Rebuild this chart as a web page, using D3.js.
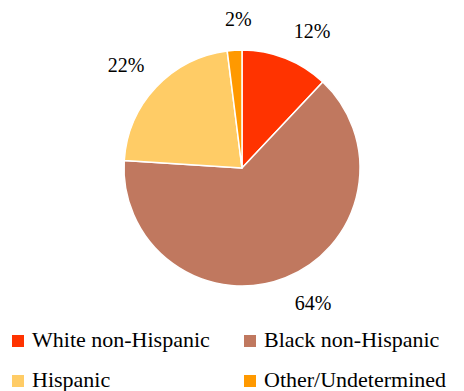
<!DOCTYPE html>
<html>
<head>
<meta charset="utf-8">
<script src="https://cdn.jsdelivr.net/npm/d3@7"></script>
<style>
  html, body { margin: 0; padding: 0; background: #fff; }
  svg { display: block; }
</style>
</head>
<body>
<svg id="chart" width="464" height="391"></svg>
<script>
// Share of cases by race / ethnicity
const categories = ["White non-Hispanic", "Black non-Hispanic", "Hispanic", "Other/Undetermined"];
const shares = [12, 64, 22, 2];
const colors = ["#FF3300", "#C0785F", "#FFCC66", "#FF9900"];

// Label nudges (px) from the outer mid-angle anchor, per slice
const labelNudge = [[13, 7], [14, -9], [-3, 3], [6, 6]];

const FONT = "Liberation Serif";
const cx = 242, cy = 168, R = 118, labelR = 155;

const svg = d3.select("#chart");
const rows = categories.map((c, i) => ({ name: c, value: shares[i], color: colors[i], i }));

const pie = d3.pie().value(d => d.value).sort(null);
const arcs = pie(rows);
const arc = d3.arc().innerRadius(0).outerRadius(R);
const labelArc = d3.arc().innerRadius(labelR).outerRadius(labelR);

const g = svg.append("g").attr("transform", `translate(${cx},${cy})`);

g.selectAll("path.slice")
  .data(arcs)
  .join("path")
  .attr("class", "slice")
  .attr("d", arc)
  .attr("fill", d => d.data.color)
  .attr("stroke", "#fff")
  .attr("stroke-width", 1.5)
  .attr("stroke-linejoin", "round");

g.selectAll("text.pct")
  .data(arcs)
  .join("text")
  .attr("class", "pct")
  .attr("x", d => labelArc.centroid(d)[0] + labelNudge[d.data.i][0])
  .attr("y", d => labelArc.centroid(d)[1] + labelNudge[d.data.i][1] + 7)
  .attr("text-anchor", "middle")
  .attr("font-family", FONT)
  .attr("font-size", 20)
  .attr("fill", "#000")
  .text(d => d.data.value + "%");

// Legend: two columns, two rows
const legend = svg.append("g");
const colX = [12, 244];
const rowY = [347, 387];
const box = 12;

const item = legend.selectAll("g.item")
  .data(rows)
  .join("g")
  .attr("class", "item")
  .attr("transform", d => `translate(${colX[d.i % 2]},${rowY[Math.floor(d.i / 2)]})`);

item.append("rect")
  .attr("x", 0)
  .attr("y", -box)
  .attr("width", box)
  .attr("height", box)
  .attr("fill", d => d.color);

item.append("text")
  .attr("x", 20)
  .attr("y", 0)
  .attr("font-family", FONT)
  .attr("font-size", 22)
  .attr("fill", "#000")
  .text(d => d.name);
</script>
</body>
</html>
